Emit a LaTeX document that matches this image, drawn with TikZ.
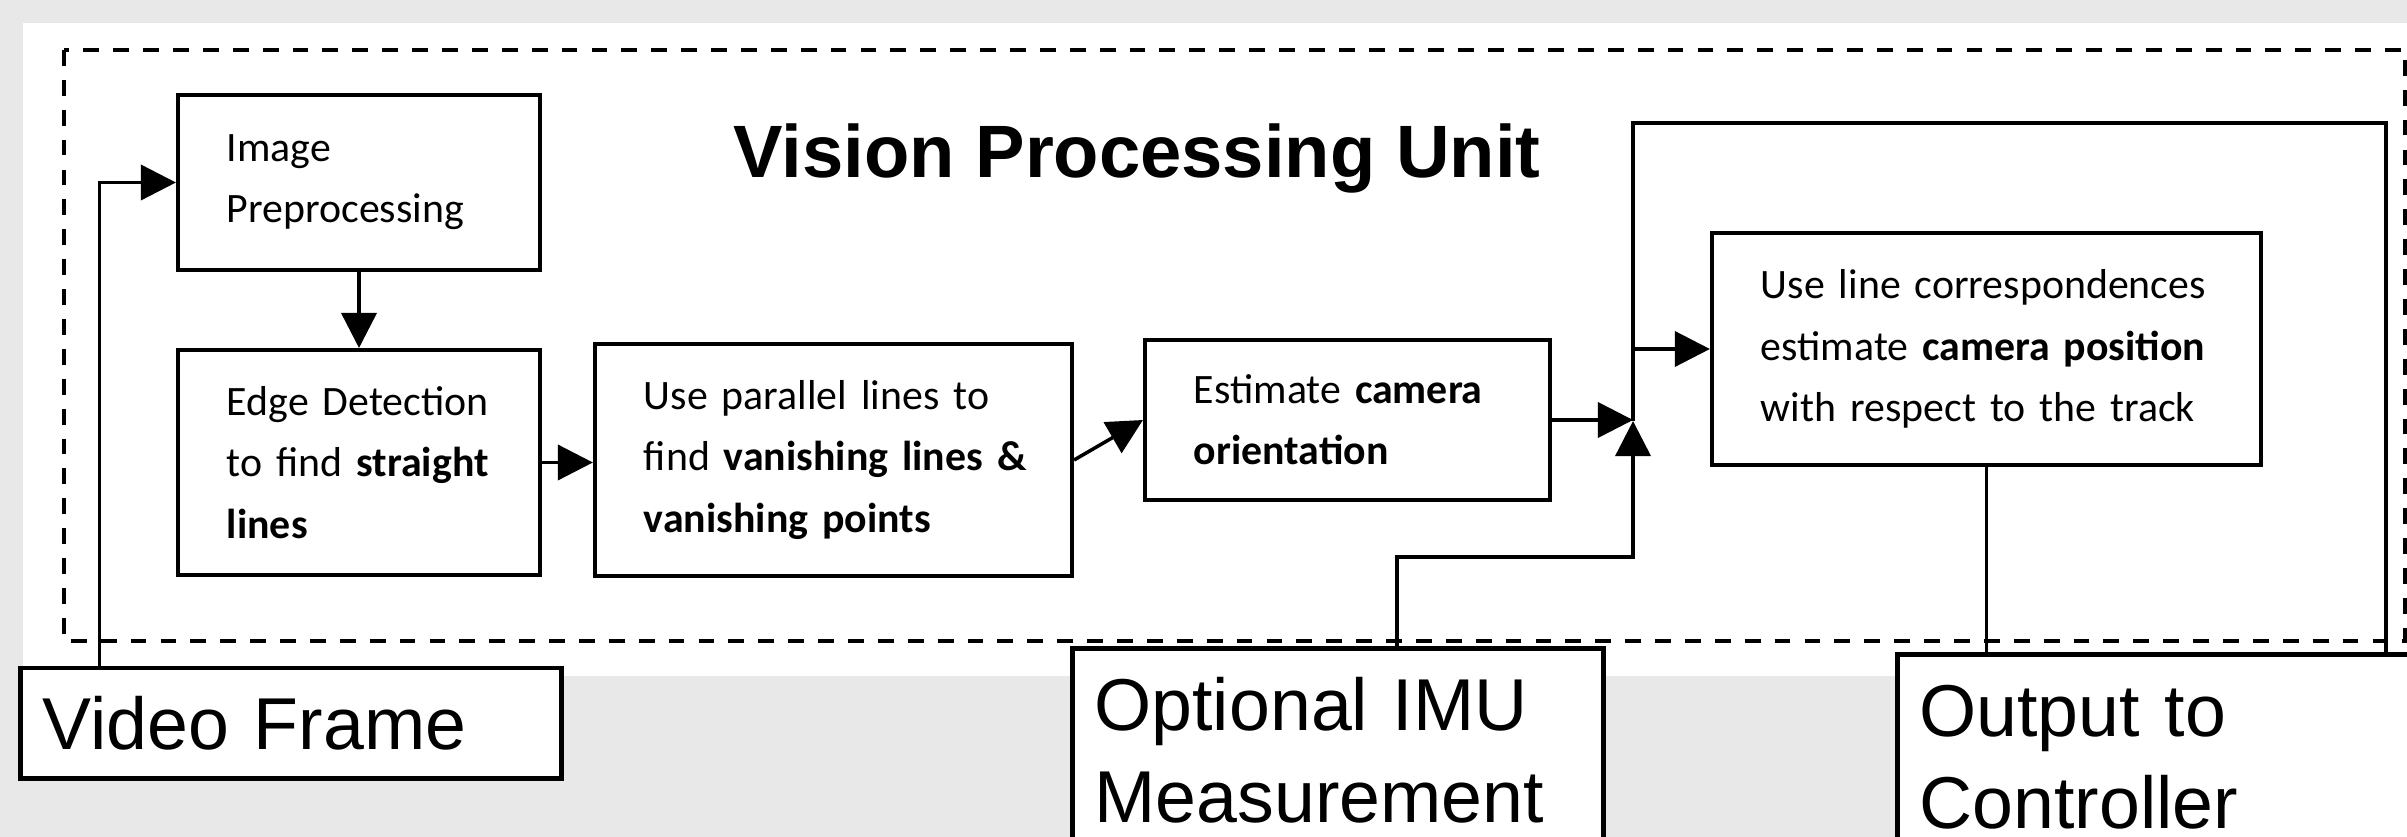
\documentclass[tikz,border=0pt]{standalone}
\usepackage{fontspec}
\setmainfont{Carlito}
\newfontfamily\arialfont{Liberation Sans}
\usetikzlibrary{arrows.meta}
\definecolor{bggray}{RGB}{232,232,232}
\hyphenpenalty=10000

\begin{document}
\begin{tikzpicture}[x=0.01cm,y=-0.01cm,>={Triangle[length=10pt,width=10pt]}]
            \tikzset{proc style/.style={draw,line width=1.1pt,align=left,inner xsep=0.49cm,inner ysep=2pt,font=\fontsize{11.9pt}{17.4pt}\selectfont},
                     io style/.style={draw,fill=white,line width=1.4pt,align=left,inner xsep=0.22cm,inner ysep=2pt,font=\arialfont\fontsize{20.9pt}{26.2pt}\selectfont},
                     flow style/.style={line width=1pt}}
            \useasboundingbox (0,0) rectangle (2407,837);
            \clip (0,0) rectangle (2407,837);
            \fill[bggray] (0,0) rectangle (2407,837);
            \fill[white] (23,23) rectangle (2407,676);
            \draw[line width=1.1pt,dash pattern=on 4.5pt off 4pt] (64,50) rectangle (2405,641);
            \node (title) [anchor=base,font=\arialfont\bfseries\fontsize{21.1pt}{25pt}\selectfont] at (1137,178) {Vision Processing Unit};
            % processing chain
            \node (imgpre) [proc style,text width=2.64cm,minimum height=1.75cm] at (359,182.5) {Image\\Preprocessing};
            \node (edge) [proc style,text width=2.64cm,minimum height=2.25cm] at (359,462.5) {Edge~Detection\\to~find~\textbf{straight}\\\textbf{lines}};
            \node (vanish) [proc style,text width=3.79cm,minimum height=2.32cm] at (833.5,460) {Use~parallel~lines~to\\find~\mbox{\textbf{vanishing~lines~\&}}\\\textbf{vanishing~points}};
            \node (orient) [proc style,text width=3.07cm,minimum height=1.6cm] at (1347.5,420) {Estimate~\textbf{camera}\\\textbf{orientation}};
            \node (posit) [proc style,text width=4.51cm,minimum height=2.32cm] at (1986.5,349) {Use~line~correspondences\\estimate~\textbf{camera~position}\\with~respect~to~the~track};
            % inputs and output
            \node (video) [io style,text width=4.96cm,minimum height=1.1cm] at (291,723) {Video Frame};
            \node (imu) [io style,anchor=north west,text width=4.87cm,minimum height=2.03cm] at (1070,646) {Optional IMU\\Measurement};
            \node (output) [io style,anchor=north west,text width=5.2cm,minimum height=2.05cm] at (1895,652) {Output to\\Controller};
            \coordinate (jn) at (1633,421);
            \coordinate (ltop) at (2386,123);
            \draw[->,flow style] ([xshift=0.81cm]video.north west) |- (imgpre.west);
            \draw[->,flow style] (imgpre) -- (edge);
            \draw[->,flow style] (edge.east) -- (edge.east -| vanish.west);
            \draw[->,flow style] (vanish.east) -- (orient.west);
            \draw[->,flow style] (orient.east) -- (orient.east -| jn);
            \draw[->,flow style] ([xshift=3.27cm]imu.north west) |- ([yshift=-1.36cm]jn) -- (jn);
            \draw[flow style] (jn) |- (ltop) -- (ltop |- output.north);
            \draw[->,flow style] (posit.west -| jn) -- (posit.west);
            \draw[flow style] (posit.south) -- (posit.south |- output.north);
        \end{tikzpicture}
\end{document}
